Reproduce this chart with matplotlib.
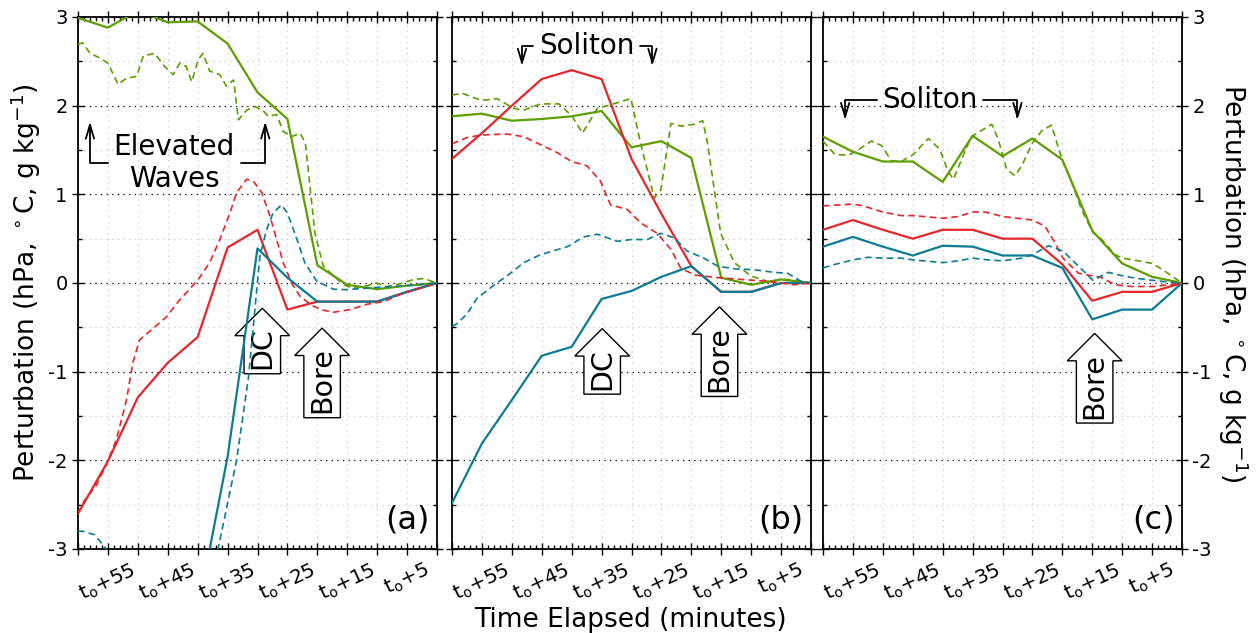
import matplotlib
matplotlib.use('Agg')
import matplotlib.pyplot as plt
from matplotlib.ticker import MultipleLocator, FuncFormatter

plt.rcParams['axes.unicode_minus'] = False
plt.rcParams['font.family'] = ['DejaVu Sans']
plt.rcParams['mathtext.fontset'] = 'dejavusans'

GREEN = '#5d9e00'
RED = '#e5262b'
BLUE = '#0c7c93'

# ---------------- data ----------------
t5 = [60, 55, 50, 45, 40, 35, 30, 25, 20, 15, 10, 5, 0]

# panel (a) solid (5-min)
a_green = [2.99, 2.88, 3.07, 2.94, 2.95, 2.70, 2.15, 1.85, 0.20, -0.02, -0.07, -0.03, 0.0]
a_red = [-2.60, -2.01, -1.29, -0.90, -0.61, 0.40, 0.60, -0.30, -0.21, -0.21, -0.21, -0.10, 0.0]
a_blue = [-6.0, -5.5, -5.0, -4.4, -3.7, -1.96, 0.39, 0.06, -0.21, -0.21, -0.21, -0.10, 0.0]

# panel (a) dashed
a_green_d_t = [60, 59.2, 58.0, 56.4, 55.0, 53.3, 51.9, 50.2, 49.1, 47.2, 45.5, 44.1, 43.0, 41.9, 41.0,
               39.9, 39.1, 38.0, 36.3, 35.2, 34.0, 33.2, 31.8, 30.4, 29.0, 28.2, 26.8, 25.7, 24.3,
               22.9, 22.0, 20.4, 19.0, 17.3, 15.6, 14.0, 11.7, 10.1, 8.4, 6.2, 3.9, 2.2, 0]
a_green_d = [2.69, 2.71, 2.59, 2.54, 2.48, 2.24, 2.31, 2.33, 2.56, 2.59, 2.44, 2.35, 2.48, 2.44, 2.27,
             2.52, 2.59, 2.39, 2.35, 2.22, 2.29, 1.84, 1.95, 1.99, 1.94, 1.88, 1.90, 1.71, 1.65,
             1.69, 1.58, 0.56, 0.19, 0.08, -0.02, -0.06, -0.03, 0.0, -0.04, -0.01, 0.04, 0.05, 0.0]
a_red_d_t = [60, 58.9, 56.9, 55.3, 53.6, 51.9, 50.8, 49.7, 47.4, 45.2, 43.0, 41.9, 39.9, 38.0, 36.3,
             34.6, 33.5, 31.8, 30.7, 29.3, 27.9, 26.8, 25.7, 24.3, 22.9, 21.2, 19.5, 17.3, 14.5,
             11.7, 8.9, 6.2, 2.8, 0]
a_red_d = [-2.60, -2.45, -2.28, -2.05, -1.77, -1.32, -0.89, -0.64, -0.51, -0.38, -0.19, -0.11, 0.04,
           0.23, 0.49, 0.79, 1.02, 1.17, 1.15, 1.02, 0.75, 0.49, 0.23, 0.0, -0.15, -0.24, -0.30,
           -0.33, -0.30, -0.24, -0.21, -0.13, -0.06, 0.0]
a_blue_d_t = [60, 59.2, 57.2, 55.3, 52, 46, 40, 37.5, 36.6, 33.5, 31.5, 30.3, 29.6, 28.5, 27.4, 26.0,
              25.0, 23.4, 22.1, 20.1, 17.3, 15.1, 10.1, 5.0, 0]
a_blue_d = [-2.80, -2.80, -2.84, -3.0, -3.4, -3.8, -3.7, -3.3, -3.0, -2.0, -1.06, -0.2, 0.3, 0.60,
            0.79, 0.88, 0.79, 0.49, 0.23, 0.02, -0.07, -0.075, -0.05, -0.03, 0.0]

# panel (b) solid
b_green = [1.88, 1.91, 1.83, 1.85, 1.88, 1.94, 1.53, 1.60, 1.41, 0.06, -0.02, 0.04, 0.0]
b_red = [1.40, 1.69, 2.00, 2.30, 2.40, 2.30, 1.40, 0.78, 0.19, -0.10, -0.10, 0.0, 0.0]
b_blue = [-2.48, -1.81, -1.32, -0.82, -0.72, -0.18, -0.09, 0.07, 0.19, -0.10, -0.10, 0.0, 0.0]

# panel (b) dashed
b_green_d_t = [60, 58.3, 56.4, 55.0, 52.5, 49.7, 48.0, 45.2, 42.1, 39.9, 38.2, 35.7, 33.5, 30.1, 28.5,
               26.2, 25.1, 23.4, 21.8, 19.5, 18.1, 17.3, 15.1, 12.8, 10.1, 7.3, 3.9, 0]
b_green_d = [2.12, 2.14, 2.09, 2.06, 2.08, 1.97, 1.95, 2.02, 2.02, 1.88, 1.69, 1.97, 2.01, 2.08, 1.58,
             0.96, 1.05, 1.80, 1.77, 1.79, 1.83, 1.58, 0.56, 0.23, 0.08, 0.02, 0.04, 0.0]
b_red_d_t = [60, 57.5, 55.0, 50.8, 48.0, 45.2, 42.4, 40.0, 37.4, 35.2, 33.5, 30.7, 28.5, 25.7, 23.4,
             21.8, 19.5, 15.6, 11.7, 7.3, 2.8, 0]
b_red_d = [1.57, 1.64, 1.67, 1.68, 1.65, 1.56, 1.47, 1.37, 1.32, 1.15, 0.88, 0.83, 0.68, 0.56, 0.38,
           0.17, 0.09, 0.06, 0.04, 0.02, -0.02, 0.0]
b_blue_d_t = [60, 59.2, 57.5, 55.8, 52.5, 50.8, 48.0, 45.2, 40.7, 38.0, 35.7, 32.4, 30.1, 27.4, 25.1,
              22.9, 20.7, 17.9, 15.6, 12.8, 9.5, 6.2, 3.9, 1.7, 0]
b_blue_d = [-0.49, -0.46, -0.35, -0.17, 0.0, 0.08, 0.23, 0.32, 0.41, 0.52, 0.55, 0.47, 0.49, 0.49,
            0.56, 0.51, 0.36, 0.28, 0.19, 0.16, 0.15, 0.12, 0.11, 0.02, 0.0]

# panel (c) solid
c_green = [1.65, 1.48, 1.37, 1.37, 1.14, 1.66, 1.43, 1.63, 1.39, 0.59, 0.22, 0.07, 0.0]
c_red = [0.60, 0.71, 0.60, 0.50, 0.60, 0.60, 0.50, 0.50, 0.21, -0.20, -0.10, -0.10, 0.0]
c_blue = [0.41, 0.52, 0.41, 0.31, 0.42, 0.41, 0.31, 0.31, 0.17, -0.41, -0.30, -0.30, 0.0]

# panel (c) dashed
c_green_d_t = [60, 58.0, 55.8, 54.4, 51.9, 50.2, 48.6, 46.9, 44.9, 42.4, 40.5, 39.1, 38.2, 36.8, 35.2,
               33.5, 31.8, 30.7, 29.3, 27.9, 26.8, 25.0, 23.4, 21.8, 20.1, 18.4, 16.8, 14.9, 13.4,
               11.2, 9.9, 7.3, 4.9, 2.8, 0]
c_green_d = [1.60, 1.45, 1.44, 1.49, 1.60, 1.55, 1.38, 1.37, 1.45, 1.63, 1.51, 1.26, 1.17, 1.40, 1.65,
             1.72, 1.79, 1.62, 1.28, 1.21, 1.32, 1.58, 1.72, 1.78, 1.40, 1.13, 0.83, 0.57, 0.49,
             0.32, 0.28, 0.25, 0.22, 0.13, 0.0]
c_red_d_t = [60, 55.0, 53.3, 50.0, 46.9, 44.9, 39.9, 37.4, 35.0, 32.9, 30.0, 25.0, 22.9, 21.2, 19.9,
             17.3, 14.9, 13.4, 11.2, 8.4, 4.9, 2.2, 0]
c_red_d = [0.87, 0.89, 0.87, 0.80, 0.76, 0.76, 0.73, 0.75, 0.80, 0.80, 0.75, 0.71, 0.64, 0.45, 0.28,
           0.11, 0.08, 0.06, -0.02, -0.04, -0.04, -0.02, 0.0]
c_blue_d_t = [60, 58.0, 55.0, 52.5, 50.0, 46.9, 44.9, 39.9, 37.4, 35.0, 32.4, 30.0, 26.8, 25.0, 22.3,
              19.9, 17.3, 14.9, 12.3, 9.9, 7.3, 4.9, 2.2, 0]
c_blue_d = [0.17, 0.21, 0.26, 0.29, 0.28, 0.28, 0.26, 0.23, 0.25, 0.28, 0.26, 0.25, 0.28, 0.32, 0.42,
            0.36, 0.19, 0.03, 0.12, 0.08, 0.05, 0.03, 0.01, 0.0]

tick_minutes = [55, 45, 35, 25, 15, 5]
panel_labels = ['(a)', '(b)', '(c)']
ylabel = r'Perturbation (hPa, $^\circ$C, g kg$^{-1}$)'
xlabel = 'Time Elapsed (minutes)'

panels = [
    dict(solid=[(a_green, GREEN), (a_red, RED), (a_blue, BLUE)],
         dashed=[(a_green_d_t, a_green_d, GREEN), (a_red_d_t, a_red_d, RED), (a_blue_d_t, a_blue_d, BLUE)]),
    dict(solid=[(b_green, GREEN), (b_red, RED), (b_blue, BLUE)],
         dashed=[(b_green_d_t, b_green_d, GREEN), (b_red_d_t, b_red_d, RED), (b_blue_d_t, b_blue_d, BLUE)]),
    dict(solid=[(c_green, GREEN), (c_red, RED), (c_blue, BLUE)],
         dashed=[(c_green_d_t, c_green_d, GREEN), (c_red_d_t, c_red_d, RED), (c_blue_d_t, c_blue_d, BLUE)]),
]

# ---------------- figure ----------------
fig = plt.figure(figsize=(12.56, 6.33), dpi=100)
lefts = [78 / 1256, 452 / 1256, 823 / 1256]
width = 359 / 1256
bottom = 1 - 549 / 633
height = (549 - 17) / 633

def xfmt(v, pos):
    v = int(round(v))
    if v in tick_minutes:
        return r'$\mathrm{t_o}$+%d' % v
    return ''

axes = []
for i, p in enumerate(panels):
    ax = fig.add_axes([lefts[i], bottom, width, height])
    axes.append(ax)
    for vals, col in p['solid']:
        ax.plot(t5, vals, color=col, lw=1.6, zorder=3)
    for tt, vals, col in p['dashed']:
        ax.plot(tt, vals, color=col, lw=1.2, dashes=(4, 2.5), zorder=3)
    ax.set_xlim(60, 0)
    ax.set_ylim(-3, 3)
    ax.xaxis.set_major_locator(MultipleLocator(5))
    ax.xaxis.set_minor_locator(MultipleLocator(1))
    ax.xaxis.set_major_formatter(FuncFormatter(xfmt))
    ax.yaxis.set_major_locator(MultipleLocator(1))
    ax.yaxis.set_minor_locator(MultipleLocator(0.5))
    ax.tick_params(which='major', direction='inout', length=8, width=1.0,
                   top=True, right=True, labelsize=14)
    ax.tick_params(which='minor', direction='in', length=3, width=1.0, top=True, right=True)
    ax.tick_params(axis='x', which='major', pad=4, labelsize=14.5)
    for lab in ax.get_xticklabels():
        lab.set_rotation(25)
        lab.set_ha('center')
    ax.grid(True, which='major', axis='y', color='k', linestyle=(0, (1, 3.5)), lw=0.9)
    ax.grid(True, which='minor', axis='y', color='#c8c8c8', linestyle=(0, (1, 3.5)), lw=0.9)
    ax.grid(True, which='major', axis='x', color='#c8c8c8', linestyle=(0, (1, 3.5)), lw=0.9)
    for s in ax.spines.values():
        s.set_linewidth(1.3)
    ax.text(0.98, 0.025, panel_labels[i], transform=ax.transAxes, ha='right', va='bottom', fontsize=23)
    if i == 0:
        ax.set_ylabel(ylabel, fontsize=19, labelpad=4)
    elif i == 1:
        ax.tick_params(labelleft=False)
    else:
        ax.tick_params(labelleft=False, labelright=True)
        ax.yaxis.set_label_position('right')
        ax.set_ylabel(ylabel, fontsize=19, rotation=270, labelpad=28)

fig.text(630 / 1256, 1 - 620 / 633, xlabel, ha='center', va='center', fontsize=19)

aprops = dict(arrowstyle='->,head_length=0.5,head_width=0.15', connectionstyle='angle,angleA=0,angleB=90',
              lw=1.3, color='k', shrinkB=0)

def bracket(ax, text, txy, left, right, fs=20):
    ax.annotate(text, xy=left, xytext=txy, ha='center', va='center', fontsize=fs,
                arrowprops=aprops, zorder=5)
    ax.annotate(text, xy=right, xytext=txy, ha='center', va='center', fontsize=fs, color='none',
                arrowprops=aprops, zorder=5)

bracket(axes[0], 'Elevated\nWaves', (43.9, 1.35), (58.0, 1.82), (28.7, 1.82))
bracket(axes[1], 'Soliton', (37.5, 2.67), (48.3, 2.45), (26.5, 2.45))
bracket(axes[2], 'Soliton', (42.1, 2.06), (56.3, 1.84), (27.5, 1.84))

boxp = dict(boxstyle='rarrow,pad=0.15', fc='white', ec='k', lw=1.0)

def updown(ax, text, xy):
    ax.text(xy[0], xy[1], text, rotation=90, ha='center', va='center', fontsize=20.5,
            bbox=boxp, zorder=2.5)

updown(axes[0], 'DC', (29.2, -0.74))
updown(axes[0], 'Bore', (19.2, -1.1))
updown(axes[1], 'DC', (34.9, -0.97))
updown(axes[1], 'Bore', (15.3, -0.86))
updown(axes[2], 'Bore', (14.6, -1.16))

fig.savefig('out.png', dpi=100)
